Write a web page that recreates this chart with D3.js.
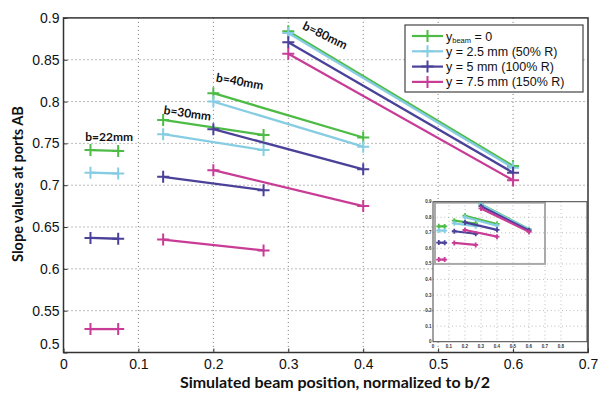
<!DOCTYPE html>
<html>
<head>
<meta charset="utf-8">
<script src="https://cdn.jsdelivr.net/npm/d3@7"></script>
<style>
  body { margin: 0; background: #fff; }
  svg { display: block; }
</style>
</head>
<body>
<div id="chart"></div>
<script>
// chart values
const bLabels = ["b=22mm", "b=30mm", "b=40mm", "b=80mm"];
// two simulated beam positions per aperture (normalized to b/2)
const xPos = [[0.036, 0.073], [0.133, 0.267], [0.2, 0.4], [0.3, 0.6]];
const seriesNames = ["y_beam = 0", "y = 2.5 mm (50% R)", "y = 5 mm (100% R)", "y = 7.5 mm (150% R)"];
const yBeam0 = [[0.742, 0.741], [0.778, 0.760], [0.810, 0.757], [0.884, 0.723]];
const y25 = [[0.715, 0.714], [0.761, 0.742], [0.800, 0.746], [0.882, 0.721]];
const y50 = [[0.637, 0.636], [0.710, 0.694], [0.767, 0.719], [0.871, 0.715]];
const y75 = [[0.528, 0.528], [0.635, 0.622], [0.718, 0.675], [0.857, 0.706]];
const xTicks = [0, 0.1, 0.2, 0.3, 0.4, 0.5, 0.6, 0.7];
const yTicks = [0.5, 0.55, 0.6, 0.65, 0.7, 0.75, 0.8, 0.85, 0.9];
const insetXTicks = [0, 0.1, 0.2, 0.3, 0.4, 0.5, 0.6, 0.7, 0.8];
const insetYTicks = [0, 0.1, 0.2, 0.3, 0.4, 0.5, 0.6, 0.7, 0.8, 0.9];

const COLORS = ["#4dbb45", "#86cde3", "#4a4199", "#c83c96"];
const WIDTH = 598, HEIGHT = 393;
const PLOT = { left: 63.5, right: 588, top: 17.9, bottom: 352.5 };
const INSET = { left: 433, right: 587, top: 201.7, bottom: 341.7 };
const TICK_FONT = "'Liberation Sans', Arial, sans-serif";
const TITLE_FONT = "Lato, 'Open Sans', sans-serif";

const allSeries = [yBeam0, y25, y50, y75];

const svg = d3.select("#chart").append("svg")
  .attr("width", WIDTH)
  .attr("height", HEIGHT);

const x = d3.scaleLinear().domain([0, 0.7]).range([PLOT.left, PLOT.right]);
const y = d3.scaleLinear().domain([0.5, 0.9]).range([PLOT.bottom, PLOT.top]);

// grid
const grid = svg.append("g")
  .attr("stroke", "#777")
  .attr("stroke-width", 1)
  .attr("stroke-dasharray", "1,3");
grid.selectAll(".gx").data(xTicks.slice(1, -1)).enter().append("line")
  .attr("x1", d => x(d)).attr("x2", d => x(d))
  .attr("y1", PLOT.top).attr("y2", PLOT.bottom);
grid.selectAll(".gy").data(yTicks.slice(1, -1)).enter().append("line")
  .attr("x1", PLOT.left).attr("x2", PLOT.right)
  .attr("y1", d => y(d)).attr("y2", d => y(d));

// axes
const gx = svg.append("g").attr("transform", "translate(0," + PLOT.bottom + ")")
  .call(d3.axisBottom(x).tickValues(xTicks).tickSize(-4).tickPadding(7).tickFormat(d3.format("")));
const gy = svg.append("g").attr("transform", "translate(" + PLOT.left + ",0)")
  .call(d3.axisLeft(y).tickValues(yTicks).tickSize(-4).tickPadding(4).tickFormat(d3.format("")));
[gx, gy].forEach(g => {
  g.select(".domain").remove();
  g.selectAll("text").attr("font-family", TICK_FONT).attr("font-size", 14).attr("fill", "#111");
  g.selectAll("line").attr("stroke", "#333");
});
gy.selectAll(".tick").filter(d => d === 0.5).select("text").attr("dy", "-0.3em");

// frame
svg.append("rect")
  .attr("x", PLOT.left).attr("y", PLOT.top)
  .attr("width", PLOT.right - PLOT.left).attr("height", PLOT.bottom - PLOT.top)
  .attr("fill", "none").attr("stroke", "#333").attr("stroke-width", 1.5);

// marker helper: a "+" sign
function plus(g, cx, cy, r, color, w) {
  g.append("path")
    .attr("d", "M" + (cx - r) + "," + cy + "H" + (cx + r) + "M" + cx + "," + (cy - r) + "V" + (cy + r))
    .attr("stroke", color).attr("stroke-width", w).attr("fill", "none");
}

function drawSeries(g, xs, ys, r, lw, mw) {
  allSeries.forEach((series, si) => {
    series.forEach((vals, gi) => {
      const pts = vals.map((v, i) => [xs(xPos[gi][i]), ys(v)]);
      g.append("path")
        .attr("d", d3.line()(pts))
        .attr("stroke", COLORS[si]).attr("stroke-width", lw).attr("fill", "none");
      pts.forEach(p => plus(g, p[0], p[1], r, COLORS[si], mw));
    });
  });
}

drawSeries(svg.append("g"), x, y, 6, 2.3, 2);

// b labels
const bLabelPos = [
  { x: 0.029, y: 0.753, rot: 0 },
  { x: 0.133, y: 0.785, rot: 8 },
  { x: 0.203, y: 0.824, rot: 10 },
  { x: 0.318, y: 0.887, rot: 26 }
];
bLabels.forEach((t, i) => {
  const p = bLabelPos[i];
  svg.append("text")
    .attr("transform", "translate(" + x(p.x) + "," + y(p.y) + ") rotate(" + p.rot + ")")
    .attr("font-family", TITLE_FONT).attr("font-weight", "bold").attr("font-size", 12)
    .attr("fill", "#111")
    .text(t);
});

// axis titles
svg.append("text")
  .attr("x", 335).attr("y", 388)
  .attr("text-anchor", "middle")
  .attr("font-family", TITLE_FONT).attr("font-weight", "bold").attr("font-size", 16)
  .attr("fill", "#111")
  .text("Simulated beam position, normalized to b/2");
svg.append("text")
  .attr("transform", "translate(23,184) rotate(-90)")
  .attr("text-anchor", "middle")
  .attr("font-family", TITLE_FONT).attr("font-weight", "bold").attr("font-size", 14.5)
  .attr("fill", "#111")
  .text("Slope values at ports AB");

// legend
const legend = svg.append("g");
legend.append("rect")
  .attr("x", 405).attr("y", 25).attr("width", 178).attr("height", 67)
  .attr("fill", "#fff").attr("stroke", "#444").attr("stroke-width", 1.2);
seriesNames.forEach((name, i) => {
  const ly = 36 + i * 15.3;
  legend.append("line")
    .attr("x1", 412).attr("x2", 443).attr("y1", ly).attr("y2", ly)
    .attr("stroke", COLORS[i]).attr("stroke-width", 2.2);
  plus(legend, 427.5, ly, 6, COLORS[i], 2);
  const t = legend.append("text")
    .attr("x", 446).attr("y", ly + 4.5)
    .attr("font-family", TICK_FONT).attr("font-size", 12.5).attr("fill", "#111");
  if (name.startsWith("y_beam")) {
    t.append("tspan").text("y");
    t.append("tspan").attr("font-size", 7.5).attr("dy", 2).text("beam");
    t.append("tspan").attr("dy", -2).text(" = 0");
  } else {
    t.text(name);
  }
});

// inset
const xi = d3.scaleLinear().domain([0, 0.9]).range([INSET.left, INSET.left + 144]);
const yi = d3.scaleLinear().domain([0, 0.9]).range([INSET.bottom, INSET.top]);
const inset = svg.append("g");
inset.append("rect")
  .attr("x", INSET.left).attr("y", INSET.top)
  .attr("width", INSET.right - INSET.left).attr("height", INSET.bottom - INSET.top)
  .attr("fill", "#fff");
const igrid = inset.append("g")
  .attr("stroke", "#999").attr("stroke-width", 0.8).attr("stroke-dasharray", "0.8,3");
igrid.selectAll(".ix").data(insetXTicks.slice(1)).enter().append("line")
  .attr("x1", d => xi(d)).attr("x2", d => xi(d))
  .attr("y1", INSET.top).attr("y2", INSET.bottom);
igrid.selectAll(".iy").data(insetYTicks.slice(1, -1)).enter().append("line")
  .attr("x1", INSET.left).attr("x2", INSET.right)
  .attr("y1", d => yi(d)).attr("y2", d => yi(d));
// zoom region box
inset.append("rect")
  .attr("x", xi(0) + 2).attr("y", yi(0.9) + 1)
  .attr("width", xi(0.7) - xi(0) - 2).attr("height", yi(0.5) - yi(0.9) - 1)
  .attr("fill", "none").attr("stroke", "#aaa").attr("stroke-width", 2);
drawSeries(inset.append("g"), xi, yi, 2.5, 2.2, 1.8);
inset.append("rect")
  .attr("x", INSET.left).attr("y", INSET.top)
  .attr("width", INSET.right - INSET.left).attr("height", INSET.bottom - INSET.top)
  .attr("fill", "none").attr("stroke", "#444").attr("stroke-width", 1);
inset.selectAll(".ixl").data(insetXTicks).enter().append("text")
  .attr("x", d => xi(d)).attr("y", INSET.bottom + 6)
  .attr("text-anchor", "middle")
  .attr("font-family", TICK_FONT).attr("font-weight", "bold").attr("font-size", 4.5)
  .attr("fill", "#333")
  .text(d => d3.format("")(d));
inset.selectAll(".iyl").data(insetYTicks).enter().append("text")
  .attr("x", INSET.left - 1.5).attr("y", d => yi(d) + 1.5)
  .attr("text-anchor", "end")
  .attr("font-family", TICK_FONT).attr("font-weight", "bold").attr("font-size", 4.5)
  .attr("fill", "#333")
  .text(d => d3.format("")(d));
</script>
</body>
</html>
